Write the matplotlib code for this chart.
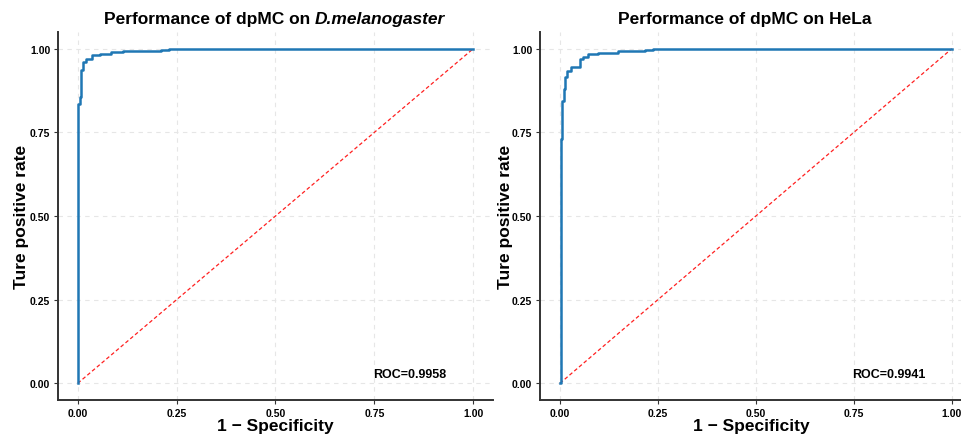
import matplotlib.pyplot as plt

plt.rcParams['font.family'] = ['Liberation Sans', 'DejaVu Sans']

# ROC curve points (false positive rate, true positive rate)
fpr_dm = [0.0, 0.0, 0.0015, 0.0015, 0.005, 0.005, 0.0075, 0.0075, 0.0135, 0.0135,
          0.022, 0.022, 0.035, 0.035, 0.056, 0.056, 0.085, 0.085, 0.114, 0.114,
          0.21, 0.21, 0.23, 0.23, 1.0]
tpr_dm = [0.0, 0.75, 0.75, 0.835, 0.835, 0.856, 0.856, 0.935, 0.935, 0.96,
          0.96, 0.97, 0.97, 0.98, 0.98, 0.985, 0.985, 0.99, 0.99, 0.994,
          0.994, 0.996, 0.996, 1.0, 1.0]

fpr_hela = [0.0, 0.002, 0.002, 0.004, 0.004, 0.006, 0.006, 0.011, 0.011, 0.014,
            0.014, 0.019, 0.019, 0.028, 0.028, 0.05, 0.05, 0.06, 0.06, 0.072,
            0.072, 0.098, 0.098, 0.148, 0.148, 0.217, 0.217, 0.237, 0.237, 1.0]
tpr_hela = [0.0, 0.0, 0.73, 0.73, 0.79, 0.79, 0.845, 0.845, 0.88, 0.88,
            0.915, 0.915, 0.932, 0.932, 0.945, 0.945, 0.97, 0.97, 0.975, 0.975,
            0.983, 0.983, 0.988, 0.988, 0.992, 0.992, 0.995, 0.995, 0.999, 1.0]

ticks = [0.0, 0.25, 0.5, 0.75, 1.0]
tick_labels = ["0.00", "0.25", "0.50", "0.75", "1.00"]

fig = plt.figure(figsize=(9.62, 4.35), dpi=100)

panels = [
    (fpr_dm, tpr_dm, "ROC=0.9958", [58 / 962, 34 / 435, 435 / 962, 368 / 435], (-0.05, 1.05), -0.067),
    (fpr_hela, tpr_hela, "ROC=0.9941", [540 / 962, 34 / 435, 422 / 962, 368 / 435], (-0.051, 1.026), -0.064),
]

axes = []
for fpr, tpr, roc, pos, xlim, ylx in panels:
    ax = fig.add_axes(pos)
    ax.grid(True, color='#e6e6e6', linestyle=(0, (4, 4)), linewidth=0.8)
    ax.set_axisbelow(True)
    ax.plot([0, 1], [0, 1], color='#ff2020', linestyle=(0, (3, 2)), linewidth=0.9)
    ax.step(fpr, tpr, where='post', color='#1f77b4', linewidth=1.8)
    ax.set_xlim(*xlim)
    ax.set_ylim(-0.05, 1.05)
    ax.set_xticks(ticks)
    ax.set_xticklabels(tick_labels, fontweight='bold', fontsize=7.5)
    ax.set_yticks(ticks)
    ax.set_yticklabels(tick_labels, fontweight='bold', fontsize=7.5)
    ax.tick_params(length=3, width=0.8, color='#333333', pad=2.5)
    for s in ['top', 'right']:
        ax.spines[s].set_visible(False)
    for s in ['left', 'bottom']:
        ax.spines[s].set_color('#333333')
        ax.spines[s].set_linewidth(1.4)
    ax.set_xlabel("1 \u2212 Specificity", fontsize=12.5, fontweight='bold')
    ax.xaxis.set_label_coords(0.5, -0.048)
    ax.set_ylabel("Ture positive rate", fontsize=12.5, fontweight='bold')
    ax.yaxis.set_label_coords(ylx, 0.5)
    ax.text(0.84, 0.027, roc, ha='center', va='center', fontsize=9, fontweight='bold')
    axes.append(ax)

# titles; the left one mixes upright and italic bold text
axes[0].text(0.579, 1.038, "Performance of dpMC on", transform=axes[0].transAxes,
             ha='right', va='center', fontsize=12.5, fontweight='bold')
axes[0].text(0.590, 1.038, "D.melanogaster", transform=axes[0].transAxes,
             ha='left', va='center', fontsize=12.5, fontweight='bold', fontstyle='italic')
axes[1].text(0.486, 1.038, "Performance of dpMC on HeLa", transform=axes[1].transAxes,
             ha='center', va='center', fontsize=12.5, fontweight='bold')

plt.savefig("out.png", dpi=100)
